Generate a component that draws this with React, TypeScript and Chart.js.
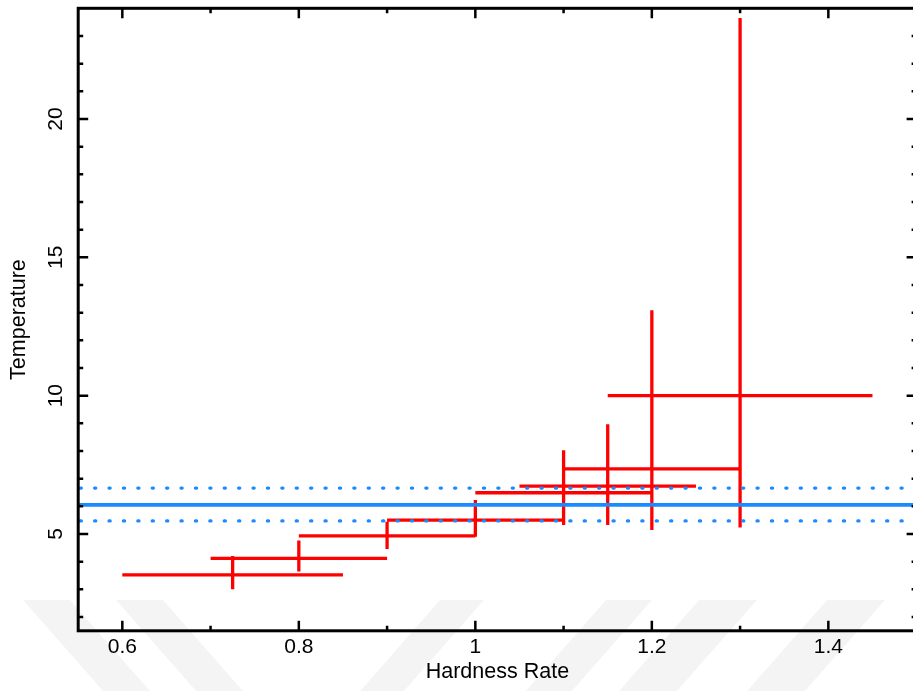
import React, { useEffect, useRef } from "react";
import { Chart, registerables } from "chart.js";

Chart.register(...registerables);

// ---- data ----
const hardnessCenter = [0.725, 0.8, 0.9, 1.0, 1.1, 1.15, 1.2, 1.3];
const hardnessLow = [0.6, 0.7, 0.8, 0.9, 1.0, 1.05, 1.1, 1.15];
const hardnessHigh = [0.85, 0.9, 1.0, 1.1, 1.2, 1.25, 1.3, 1.45];
const tempCenter = [3.52, 4.12, 4.93, 5.5, 6.49, 6.73, 7.35, 10.0];
const tempLow = [3.0, 3.64, 4.46, 4.9, 5.32, 5.32, 5.14, 5.23];
const tempHigh = [4.2, 4.76, 5.44, 6.23, 8.03, 8.97, 13.09, 23.65];

const meanTemp = 6.05;
const meanTempLower = 5.47;
const meanTempUpper = 6.66;

const xRange = [0.55, 1.5];
const yRange = [1.5, 24];
const xMajorTicks = [0.6, 0.8, 1.0, 1.2, 1.4];
const xMinorTicks = [0.7, 0.9, 1.1, 1.3];
const yMajorTicks = [5, 10, 15, 20];
const yMinorTicks = [2, 3, 4, 6, 7, 8, 9, 11, 12, 13, 14, 16, 17, 18, 19, 21, 22, 23];

const xTitle = "Hardness Rate";
const yTitle = "Temperature";

const RED = "#ff0000";
const BLUE = "#1a8aff";
const FONT = "'Liberation Sans', Arial, Helvetica, sans-serif";

const CANVAS_W = 930;
const CANVAS_H = 691;

const watermarkPlugin = {
  id: "watermark",
  beforeDraw(chart: any) {
    const ctx = chart.ctx;
    ctx.save();
    ctx.fillStyle = "rgba(0,0,0,0.045)";
    const top = 600;
    const bot = CANVAS_H;
    const stripes: [number, number, number][] = [
      [23, 70, 80],
      [116, 163, 80],
      [440, 484, -80],
      [606, 652, -80],
      [699, 757, -80],
      [827, 885, -80],
    ];
    stripes.forEach(([a, b, d]) => {
      ctx.beginPath();
      ctx.moveTo(a, top);
      ctx.lineTo(b, top);
      ctx.lineTo(b + d, bot);
      ctx.lineTo(a + d, bot);
      ctx.closePath();
      ctx.fill();
    });
    ctx.restore();
  },
};

const framePlugin = {
  id: "frame",
  afterDraw(chart: any) {
    const { ctx, chartArea: a } = chart;
    const xs = chart.scales.x;
    const ys = chart.scales.y;
    ctx.save();
    ctx.strokeStyle = "#000";
    ctx.lineWidth = 3;
    ctx.strokeRect(a.left, a.top, a.right - a.left, a.bottom - a.top);
    ctx.lineWidth = 2.5;
    ctx.beginPath();
    const drawX = (vals: number[], len: number) => {
      vals.forEach((v) => {
        const p = xs.getPixelForValue(v);
        ctx.moveTo(p, a.bottom);
        ctx.lineTo(p, a.bottom - len);
        ctx.moveTo(p, a.top);
        ctx.lineTo(p, a.top + len);
      });
    };
    const drawY = (vals: number[], len: number) => {
      vals.forEach((v) => {
        const p = ys.getPixelForValue(v);
        ctx.moveTo(a.left, p);
        ctx.lineTo(a.left + len, p);
        ctx.moveTo(a.right, p);
        ctx.lineTo(a.right - len, p);
      });
    };
    drawX(xMajorTicks, 10);
    drawX(xMinorTicks, 5);
    drawY(yMajorTicks, 10);
    drawY(yMinorTicks, 5);
    ctx.stroke();
    ctx.restore();
  },
};

export default function App() {
  const ref = useRef<HTMLCanvasElement | null>(null);

  useEffect(() => {
    if (!ref.current) return;

    const crossData: { x: number; y: number | null }[] = [];
    hardnessCenter.forEach((xc, i) => {
      crossData.push(
        { x: hardnessLow[i], y: tempCenter[i] },
        { x: hardnessHigh[i], y: tempCenter[i] },
        { x: hardnessHigh[i], y: null },
        { x: xc, y: tempLow[i] },
        { x: xc, y: tempHigh[i] },
        { x: xc, y: null }
      );
    });

    const hline = (v: number) => [
      { x: xRange[0], y: v },
      { x: xRange[1], y: v },
    ];

    const chart = new Chart(ref.current, {
      type: "line",
      data: {
        datasets: [
          {
            label: "mean",
            data: hline(meanTemp),
            borderColor: BLUE,
            borderWidth: 3.7,
            pointRadius: 0,
            order: 0,
          },
          {
            label: "upper",
            data: hline(meanTempUpper),
            borderColor: BLUE,
            borderWidth: 3.2,
            borderDash: [1.2, 13.2],
            borderDashOffset: -2,
            borderCapStyle: "round",
            pointRadius: 0,
            order: 0,
          },
          {
            label: "lower",
            data: hline(meanTempLower),
            borderColor: BLUE,
            borderWidth: 3.2,
            borderDash: [1.2, 13.2],
            borderDashOffset: -2,
            borderCapStyle: "round",
            pointRadius: 0,
            order: 0,
          },
          {
            label: "bins",
            data: crossData as any,
            borderColor: RED,
            borderWidth: 3.3,
            pointRadius: 0,
            spanGaps: false,
            order: 1,
          },
        ],
      },
      options: {
        animation: false,
        responsive: false,
        maintainAspectRatio: false,
        layout: { padding: { left: 0, top: 8.3, right: CANVAS_W - 916.6, bottom: 0 } },
        plugins: {
          legend: { display: false },
          tooltip: { enabled: false },
        },
        elements: { line: { tension: 0 }, point: { radius: 0 } },
        scales: {
          x: {
            type: "linear",
            min: xRange[0],
            max: xRange[1],
            grid: { display: false, drawTicks: false },
            border: { display: false },
            afterBuildTicks: (s: any) => {
              s.ticks = xMajorTicks.map((v) => ({ value: v }));
            },
            afterFit: (s: any) => {
              s.height = CANVAS_H - 630.8;
              s.paddingLeft = 0;
              s.paddingRight = 0;
            },
            ticks: {
              autoSkip: false,
              maxRotation: 0,
              minRotation: 0,
              padding: 3.5,
              color: "#000",
              font: { family: FONT, size: 21 },
              callback: (v: any) => String(v),
            },
            title: {
              display: true,
              text: xTitle,
              color: "#000",
              font: { family: FONT, size: 21.5 },
              padding: { top: 0, bottom: 6 },
            },
          },
          y: {
            type: "linear",
            min: yRange[0],
            max: yRange[1],
            grid: { display: false, drawTicks: false },
            border: { display: false },
            afterBuildTicks: (s: any) => {
              s.ticks = yMajorTicks.map((v) => ({ value: v }));
            },
            afterFit: (s: any) => {
              s.width = 78.2;
              s.paddingTop = 0;
              s.paddingBottom = 0;
            },
            ticks: {
              autoSkip: false,
              minRotation: 90,
              maxRotation: 90,
              crossAlign: "center",
              padding: 10,
              color: "#000",
              font: { family: FONT, size: 21 },
              callback: (v: any) => String(v),
            },
            title: {
              display: true,
              text: yTitle,
              color: "#000",
              font: { family: FONT, size: 21.5 },
              padding: { top: 6.2, bottom: 0 },
            },
          },
        },
      },
      plugins: [watermarkPlugin, framePlugin],
    });

    return () => chart.destroy();
  }, []);

  return (
    <div
      style={{
        position: "absolute",
        left: 0,
        top: 0,
        width: 913,
        height: 691,
        overflow: "hidden",
        background: "#fff",
      }}
    >
      <canvas
        ref={ref}
        width={CANVAS_W}
        height={CANVAS_H}
        style={{ width: CANVAS_W, height: CANVAS_H, display: "block" }}
      />
    </div>
  );
}
